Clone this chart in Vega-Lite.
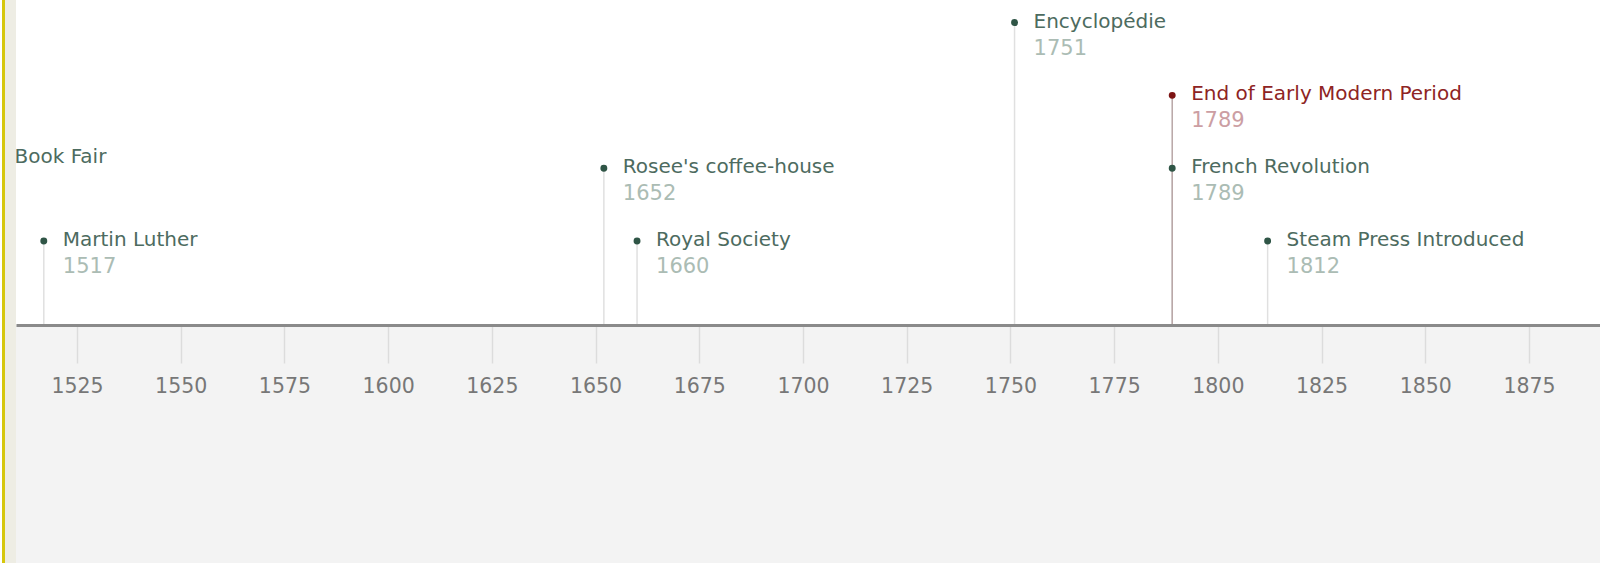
{
  "$schema": "https://vega.github.io/schema/vega-lite/v6.json",
  "padding": 0,
  "background": "white",
  "spacing": 0,
  "bounds": "flush",
  "config": {"view": {"stroke": null}, "concat": {"spacing": 0}},
  "hconcat": [
    {
      "width": 3, "height": 563,
      "view": {"fill": "#d6c70c", "stroke": null},
      "data": {"values": [{"k": 1}]},
      "mark": {"type": "point", "opacity": 0}
    },
    {
      "width": 11, "height": 563,
      "view": {"fill": "#eeede4", "stroke": null},
      "data": {"values": [{"k": 1}]},
      "mark": {"type": "point", "opacity": 0}
    },
    {
      "width": 1586, "height": 563,
      "view": {"fill": "white", "stroke": null},
      "data": {"values": [
        {"event": "Frankfurt Book Fair", "year": 1482, "lane": 2.14, "kind": "normal"},
        {"event": "Martin Luther", "year": 1517, "lane": 1, "kind": "normal"},
        {"event": "Rosee's coffee-house", "year": 1652, "lane": 2, "kind": "normal"},
        {"event": "Royal Society", "year": 1660, "lane": 1, "kind": "normal"},
        {"event": "Encyclopédie", "year": 1751, "lane": 4, "kind": "normal"},
        {"event": "French Revolution", "year": 1789, "lane": 2, "kind": "normal"},
        {"event": "Steam Press Introduced", "year": 1812, "lane": 1, "kind": "normal"},
        {"event": "End of Early Modern Period", "year": 1789, "lane": 3, "kind": "end"}
      ]},
      "layer": [
        {
          "data": {"values": [{"band": "lower"}]},
          "mark": {"type": "rect", "color": "#f3f3f3"},
          "encoding": {
            "y": {"datum": -0.154, "type": "quantitative", "scale": {"domain": [-3.423, 4.31], "nice": false, "zero": false}, "axis": null},
            "y2": {"datum": -3.423}
          }
        },
        {
          "mark": {"type": "rule", "clip": true, "strokeWidth": 1.5},
          "encoding": {
            "x": {"field": "year", "type": "quantitative",
              "scale": {"domain": [1510.3, 1892.6], "nice": false, "zero": false},
              "axis": {
                "orient": "bottom", "offset": -238, "zindex": 1,
                "values": [1525, 1550, 1575, 1600, 1625, 1650, 1675, 1700, 1725, 1750, 1775, 1800, 1825, 1850, 1875],
                "format": "d", "title": null, "grid": false,
                "domainColor": "#8a8a8a", "domainWidth": 3,
                "tickColor": "#dcdcdc", "tickWidth": 1.5, "tickSize": 38,
                "labelFont": "DejaVu Sans", "labelFontSize": 20.5, "labelColor": "#777777",
                "labelPadding": 13
              }},
            "y": {"field": "lane", "type": "quantitative"},
            "y2": {"datum": -0.154},
            "color": {"field": "kind", "type": "nominal", "scale": {"domain": ["normal", "end"], "range": ["#e0e0e0", "#b8a6a6"]}, "legend": null}
          }
        },
        {
          "mark": {"type": "circle", "clip": true, "size": 48, "opacity": 1},
          "encoding": {
            "x": {"field": "year", "type": "quantitative"},
            "y": {"field": "lane", "type": "quantitative"},
            "fill": {"field": "kind", "type": "nominal", "scale": {"domain": ["normal", "end"], "range": ["#2f5546", "#7d1414"]}, "legend": null}
          }
        },
        {
          "mark": {"type": "text", "clip": true, "align": "left", "baseline": "middle", "dx": 19, "dy": -1, "font": "DejaVu Sans", "fontSize": 20},
          "encoding": {
            "x": {"field": "year", "type": "quantitative"},
            "y": {"field": "lane", "type": "quantitative"},
            "text": {"field": "event"},
            "fill": {"field": "kind", "type": "nominal", "scale": {"domain": ["normal", "end"], "range": ["#4d6b60", "#8e2424"]}, "legend": null}
          }
        },
        {
          "mark": {"type": "text", "clip": true, "align": "left", "baseline": "middle", "dx": 19, "dy": 26, "font": "DejaVu Sans", "fontSize": 21},
          "encoding": {
            "x": {"field": "year", "type": "quantitative"},
            "y": {"field": "lane", "type": "quantitative"},
            "text": {"field": "year", "type": "quantitative", "format": "d"},
            "color": {"field": "kind", "type": "nominal", "scale": {"domain": ["normal", "end"], "range": ["#abbcb4", "#cc9ea3"]}, "legend": null}
          }
        }
      ],
      "resolve": {"scale": {"color": "independent", "fill": "independent"}}
    }
  ]
}
